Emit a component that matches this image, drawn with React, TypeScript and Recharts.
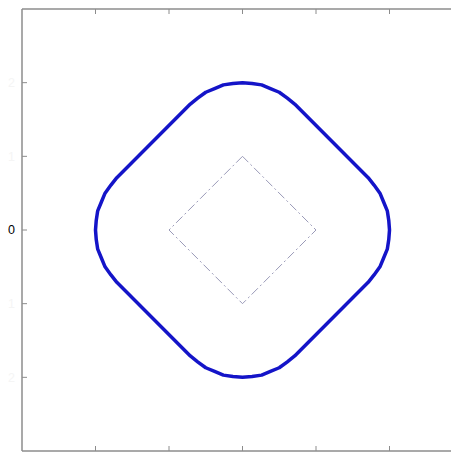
import { ComposedChart, Line, XAxis, YAxis } from "recharts"

// outer rounded curve (x, y)
const outerX = [
  0.71, 0.61, 0.5, 0.38, 0.26, 0.13, 0, -0.13, -0.26, -0.38, -0.5, -0.61, -0.71,
  -1.71, -1.79, -1.87, -1.92, -1.97, -1.99, -2, -1.99, -1.97, -1.92, -1.87, -1.79, -1.71,
  -0.71, -0.61, -0.5, -0.38, -0.26, -0.13, 0, 0.13, 0.26, 0.38, 0.5, 0.61, 0.71,
  1.71, 1.79, 1.87, 1.92, 1.97, 1.99, 2, 1.99, 1.97, 1.92, 1.87, 1.79, 1.71, 0.71,
]
const outerY = [
  1.71, 1.79, 1.87, 1.92, 1.97, 1.99, 2, 1.99, 1.97, 1.92, 1.87, 1.79, 1.71,
  0.71, 0.61, 0.5, 0.38, 0.26, 0.13, 0, -0.13, -0.26, -0.38, -0.5, -0.61, -0.71,
  -1.71, -1.79, -1.87, -1.92, -1.97, -1.99, -2, -1.99, -1.97, -1.92, -1.87, -1.79, -1.71,
  -0.71, -0.61, -0.5, -0.38, -0.26, -0.13, 0, 0.13, 0.26, 0.38, 0.5, 0.61, 0.71, 1.71,
]

// inner dash-dot diamond
const innerX = [0, -1, 0, 1, 0]
const innerY = [1, 0, -1, 0, 1]

const ticks = [-2, -1, 0, 1, 2]
const domain: [number, number] = [-3, 3]

const outer = outerX.map((x, i) => ({ x, y: outerY[i] }))
const inner = innerX.map((x, i) => ({ x, y: innerY[i] }))

const frame = "#8c8c8c"
const frameLine = { stroke: frame, strokeWidth: 1.5 }
const tickStyle = { stroke: frame, strokeWidth: 1 }

const XLabel = (props: any) => {
  const { x, y, payload } = props
  return (
    <text x={x} y={y} dy="0.71em" textAnchor="middle" fontSize={12.5}
      fill={payload.value === 0 ? "#000" : "#f5f5f5"}>
      {payload.value}
    </text>
  )
}

const YLabel = (props: any) => {
  const { x, y, payload } = props
  return (
    <text x={x} y={y} dy="0.355em" textAnchor="end" fontSize={12.5}
      fill={payload.value === 0 ? "#000" : "#f5f5f5"}>
      {payload.value}
    </text>
  )
}

const NoLabel = () => <g />

const App = () => {
  return (
    <div style={{ margin: -8, width: 459, height: 465, overflow: "hidden", fontFamily: "'Liberation Sans', Arial, sans-serif" }}>
      <ComposedChart width={467} height={465} margin={{ top: 8, right: 3, left: 0, bottom: 0 }}>
        <XAxis xAxisId="b" dataKey="x" type="number" domain={domain} ticks={ticks}
          allowDataOverflow height={14} axisLine={frameLine} tickLine={tickStyle}
          tickSize={-5} tickMargin={12} tick={XLabel} />
        <XAxis xAxisId="t" dataKey="x" type="number" orientation="top" domain={domain} ticks={ticks}
          allowDataOverflow height={1} axisLine={frameLine} tickLine={tickStyle}
          tickSize={-5} tick={NoLabel} />
        <YAxis yAxisId="l" dataKey="y" type="number" domain={domain} ticks={ticks}
          allowDataOverflow width={22} axisLine={frameLine} tickLine={tickStyle}
          tickSize={-5} tickMargin={12} tick={YLabel} />
        <YAxis yAxisId="r" dataKey="y" type="number" orientation="right" domain={domain} ticks={ticks}
          allowDataOverflow width={1} axisLine={false} tickLine={tickStyle}
          tickSize={-5} tick={NoLabel} />
        <Line xAxisId="t" yAxisId="r" data={inner} dataKey="y" type="linear"
          stroke="#9a9ab8" strokeWidth={1} strokeDasharray="9 3 2 3"
          dot={false} activeDot={false} isAnimationActive={false} />
        <Line xAxisId="b" yAxisId="l" data={outer} dataKey="y" type="linear"
          stroke="#1414c8" strokeWidth={3.5} strokeLinejoin="round"
          dot={false} activeDot={false} isAnimationActive={false} />
      </ComposedChart>
    </div>
  )
}

export default App
